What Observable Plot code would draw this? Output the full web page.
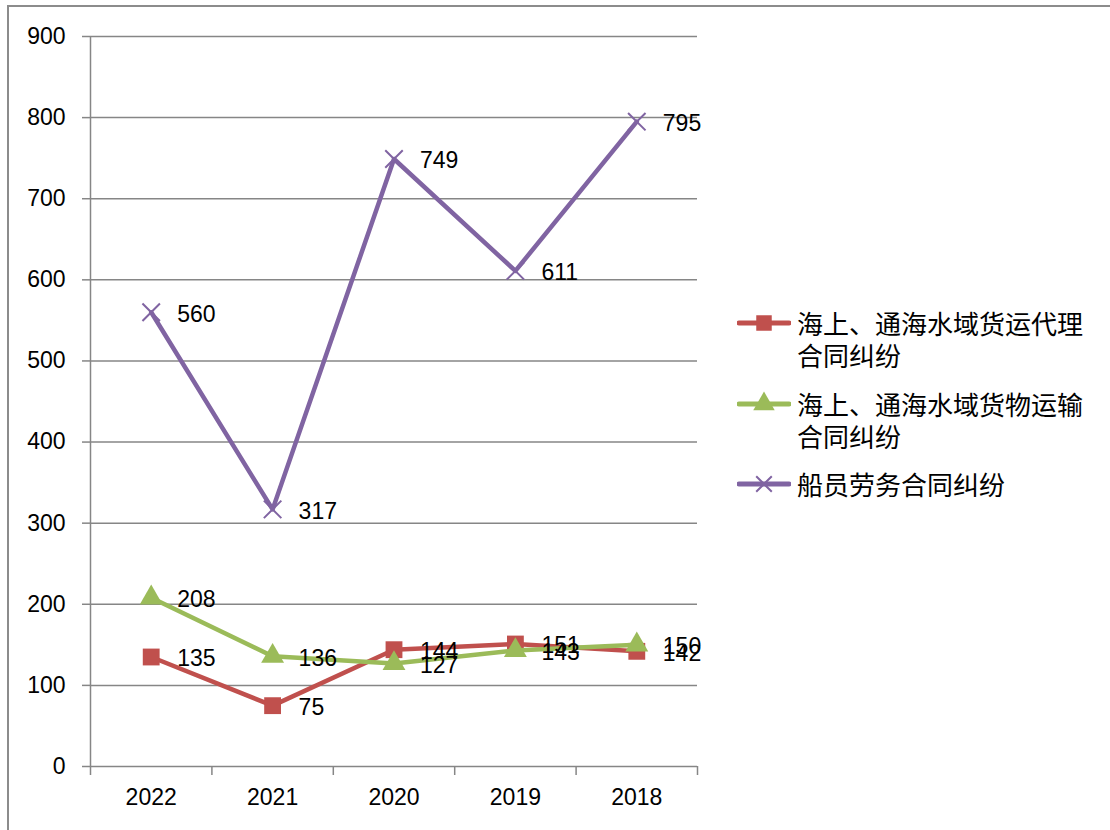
<!DOCTYPE html>
<html>
<head>
<meta charset="utf-8">
<script src="https://cdn.jsdelivr.net/npm/d3@7"></script>
<script src="https://cdn.jsdelivr.net/npm/@observablehq/plot@0.6"></script>
<style>
  html, body { margin: 0; padding: 0; background: #fff; overflow: hidden; }
  #wrap { position: relative; width: 1110px; height: 830px; }
  #frame { position: absolute; left: 7px; top: 5px; width: 1200px; height: 900px;
           border-left: 2px solid #8c8c8c; border-top: 2px solid #8c8c8c; pointer-events: none; }
  #chart { position: absolute; left: 0; top: 0; }
  .legend-item { position: absolute; left: 737px; display: flex; align-items: flex-start; }
  .legend-item svg { flex: none; }
  .legend-text { margin-left: 6px; width: 300px; font-family: "Noto Sans CJK SC", sans-serif;
                 font-size: 26px; line-height: 32px; color: #000; }
</style>
</head>
<body>
<div id="wrap">
  <div id="chart"></div>
  <div id="legend"></div>
  <div id="frame"></div>
</div>
<script>
const years = ["2022", "2021", "2020", "2019", "2018"];
const freightAgency = [135, 75, 144, 151, 142];
const cargoTransport = [208, 136, 127, 143, 150];
const crewLabour = [560, 317, 749, 611, 795];
const seriesNames = ["海上、通海水域货运代理合同纠纷", "海上、通海水域货物运输合同纠纷", "船员劳务合同纠纷"];
const seriesColors = ["#C0504D", "#9BBB59", "#8064A2"];
const seriesSymbols = ["square", "triangle", "times"];
const yTicks = [0, 100, 200, 300, 400, 500, 600, 700, 800, 900];

const seriesValues = [freightAgency, cargoTransport, crewLabour];
const rows = seriesValues.map((vals, s) =>
  vals.map((v, i) => ({series: seriesNames[s], s, i: i + 0.5, year: years[i], value: v}))
);

const numFont = "'Liberation Sans', Arial, sans-serif";
const gridColor = "#868686";

const marks = [
  Plot.ruleY(yTicks, {stroke: gridColor, strokeWidth: 1.5}),
  Plot.ruleX([0], {stroke: gridColor, strokeWidth: 1.5}),
  Plot.axisY({ticks: yTicks, tickSize: 8, stroke: gridColor, strokeWidth: 1.5, fill: "#000",
              fontSize: 23, tickPadding: 17, label: null, tickFormat: d => String(d)}),
  Plot.axisX({ticks: d3.range(years.length + 1), tickSize: 9, stroke: gridColor, strokeWidth: 1.5,
              tickFormat: () => "", label: null}),
  Plot.axisX({ticks: years.map((_, i) => i + 0.5), tickSize: 0, fill: "#000", fontSize: 23,
              tickPadding: 22, label: null, tickFormat: v => years[Math.floor(v)]})
];

rows.forEach((data, s) => {
  marks.push(Plot.line(data, {x: "i", y: "value", stroke: seriesColors[s], strokeWidth: 4.5, strokeLinejoin: "round"}));
  if (seriesSymbols[s] === "times") {
    marks.push(Plot.dot(data, {x: "i", y: "value", symbol: "times", r: 8, stroke: seriesColors[s], strokeWidth: 2}));
  } else {
    marks.push(Plot.dot(data, {x: "i", y: "value", symbol: seriesSymbols[s], r: seriesSymbols[s] === "square" ? 9.5 : 8.5,
                               fill: seriesColors[s], stroke: "none"}));
  }
});
rows.forEach((data) => {
  marks.push(Plot.text(data, {x: "i", y: "value", text: d => String(d.value), textAnchor: "start",
                              dx: 26, dy: 2, fontSize: 23, fill: "#000"}));
});

const chart = Plot.plot({
  width: 1110,
  height: 830,
  marginLeft: 90,
  marginRight: 413,
  marginTop: 36,
  marginBottom: 64,
  style: {fontFamily: numFont, background: "transparent", overflow: "visible"},
  x: {type: "linear", domain: [0, years.length], axis: null},
  y: {type: "linear", domain: [0, 900], axis: null},
  marks
});
document.getElementById("chart").appendChild(chart);

// Legend
const legendTops = [307, 388, 468];
const legend = document.getElementById("legend");
seriesNames.forEach((name, s) => {
  const item = document.createElement("div");
  item.className = "legend-item";
  item.style.top = legendTops[s] + "px";
  const svg = d3.create("svg").attr("width", 54).attr("height", 32);
  svg.append("line").attr("x1", 2).attr("x2", 52).attr("y1", 16).attr("y2", 16)
    .attr("stroke", seriesColors[s]).attr("stroke-width", 5).attr("stroke-linecap", "round");
  const sym = {square: d3.symbolSquare, triangle: d3.symbolTriangle, times: d3.symbolTimes}[seriesSymbols[s]];
  const size = seriesSymbols[s] === "times" ? 160 : (seriesSymbols[s] === "square" ? 240 : 200);
  const p = svg.append("path").attr("transform", "translate(27,16)").attr("d", d3.symbol(sym, size)());
  if (seriesSymbols[s] === "times") p.attr("fill", "none").attr("stroke", seriesColors[s]).attr("stroke-width", 2);
  else p.attr("fill", seriesColors[s]);
  item.appendChild(svg.node());
  const t = document.createElement("div");
  t.className = "legend-text";
  t.textContent = name;
  item.appendChild(t);
  legend.appendChild(item);
});
</script>
</body>
</html>
